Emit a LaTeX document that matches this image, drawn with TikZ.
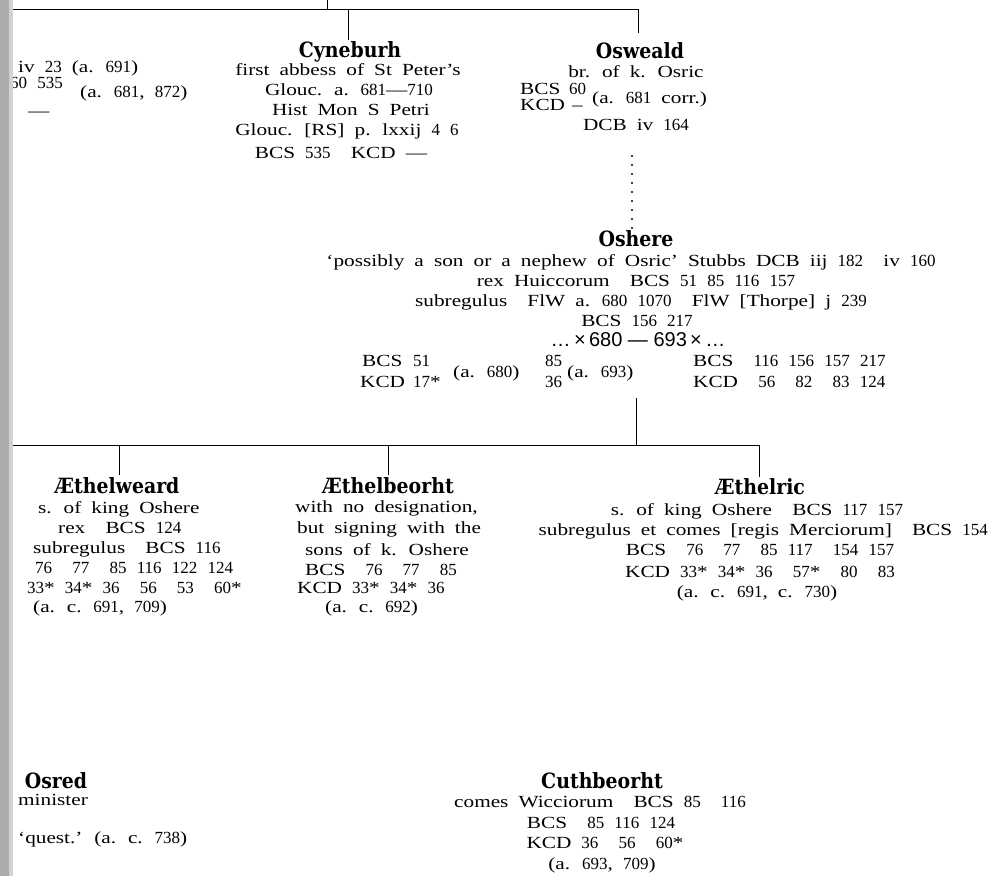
\documentclass[tikz,border=0pt]{standalone}
\usepackage{fontspec}
\setmainfont{Liberation Serif}[FakeStretch=1.25, WordSpace=1.9]
\newfontfamily\numfont{Liberation Serif}[WordSpace=2.4]
\newfontfamily\namefont{DejaVu Serif}[FakeStretch=0.9]
\newfontfamily\sansfnt{Liberation Sans}
% figures set without the horizontal stretch of the text face (narrower, as in the original)
\newcommand\osn[1]{{\numfont #1}}
\tikzset{
  tx/.style={anchor=base west, inner sep=0pt, font=\fontsize{17}{20}\selectfont},
  tc/.style={anchor=base, inner sep=0pt, font=\fontsize{17}{20}\selectfont},
  te/.style={anchor=base east, inner sep=0pt, font=\fontsize{17}{20}\selectfont},
  nm/.style={anchor=base, inner sep=0pt, font=\fontsize{21}{24}\namefont\bfseries},
  ln/.style={line width=0.9pt, black},
  dotline/.style={line width=2.3pt, line cap=round, dash pattern=on 0pt off 9pt}
}
\begin{document}
\begin{tikzpicture}[x=1pt, y=-1pt]
\useasboundingbox (0,0) rectangle (990,876);
% ---------- top generation line ----------
\coordinate (topL) at (0,9);
\coordinate (topUp) at (327,0);
\coordinate (topUpJ) at (327,9);
\coordinate (cyJ) at (348,9);
\coordinate (cyT) at (348,40);
\coordinate (osJ) at (638,9);
\coordinate (osT) at (638,33);
\draw[ln] (topL) -- (osJ) -- (osT);
\draw[ln] (topUp) -- (topUpJ);
\draw[ln] (cyJ) -- (cyT);
% ---------- left fragments ----------
\node[tx] (fa) at (18,72) {iv \osn{23} (a. \osn{691})};
\node[tx] (fb) at (10,88) {\osn{60 535}};
\node[tx] (fc) at (80,97) {(a. \osn{681}, \osn{872})};
\node[tx] (fd) at (28,116) {—};
% ---------- Cyneburh ----------
\node[nm] (cy) at (350,57) {Cyneburh};
\node[tc] (cy1) at (348,75) {first abbess of St Peter’s};
\node[tc] (cy2) at (349,95) {Glouc. a. \osn{681}—\osn{710}};
\node[tc] (cy3) at (351,115) {Hist Mon S Petri};
\node[tc] (cy4) at (347,135) {Glouc. [RS] p. lxxij \osn{4 6}};
\node[tc] (cy5) at (341,158) {BCS \osn{535}\ \ KCD —};
% ---------- Osweald ----------
\node[nm] (ow) at (640,58) {Osweald};
\node[tc] (ow1) at (636,77) {br. of k. Osric};
\node[tx] (ow2) at (520,94) {BCS};
\node[tx] (ow2n) at (569,94) {\osn{60}};
\node[tx] (ow3) at (520,110) {KCD};
\node[tx] (ow3n) at (572,110) {–};
\node[tx] (ow4) at (592,103) {(a. \osn{681} corr.)};
\node[tc] (ow5) at (636,130) {DCB iv \osn{164}};
% ---------- Oshere ----------
\coordinate (dotA) at (632,156);
\node[nm] (os) at (636,246) {Oshere};
\coordinate (dotB) at (632,236);
\draw[dotline] (dotA) -- (dotB);
\node[tc] (os1) at (631,266) {‘possibly a son or a nephew of Osric’ Stubbs DCB iij \osn{182}\ \ iv \osn{160}};
\node[tc] (os2) at (636,286) {rex Huiccorum\ \ BCS \osn{51 85 116 157}};
\node[tc] (os3) at (641,306) {subregulus\ \ FlW a. \osn{680 1070}\ \ FlW [Thorpe] j \osn{239}};
\node[tc] (os4) at (637,326) {BCS \osn{156 217}};
\node[anchor=base, inner sep=0pt, font=\fontsize{20}{22}\sansfnt] (os5) at (638,346) {…\,×\,680 — 693\,×\,…};
\node[tx] (os6) at (362,366) {BCS};
\node[tx] (os7) at (413,366) {\osn{51}};
\node[tx] (os8) at (360,387) {KCD};
\node[tx] (os9) at (413,387) {\osn{17}*};
\node[tx] (os10) at (453,377) {(a. \osn{680})};
\node[tx] (os11) at (545,366) {\osn{85}};
\node[tx] (os12) at (545,387) {\osn{36}};
\node[tx] (os13) at (567,377) {(a. \osn{693})};
\node[tx] (os14) at (693,366) {BCS\ \ \osn{116 156 157 217}};
\node[tx] (os15) at (693,387) {KCD\ \ \osn{56}\ \ \osn{82}\ \ \osn{83 124}};
% ---------- children line ----------
\coordinate (osB) at (636,398);
\coordinate (chJ) at (636,445);
\coordinate (chL) at (0,445);
\coordinate (chR) at (759,445);
\coordinate (awJ) at (119,445);
\coordinate (awT) at (119,475);
\coordinate (abJ) at (388,445);
\coordinate (abT) at (388,475);
\coordinate (arT) at (759,477);
\draw[ln] (osB) -- (chJ);
\draw[ln] (chL) -- (chR) -- (arT);
\draw[ln] (awJ) -- (awT);
\draw[ln] (abJ) -- (abT);
% ---------- Aethelweard ----------
\node[nm] (aw) at (117,493) {Æthelweard};
\node[tx] (aw1) at (38,513) {s. of king Oshere};
\node[tx] (aw2) at (58,533) {rex\ \ BCS \osn{124}};
\node[tx] (aw3) at (33,553) {subregulus\ \ BCS \osn{116}};
\node[tx] (aw4) at (35,573) {\osn{76}\ \ \osn{77}\ \ \osn{85 116 122 124}};
\node[tx] (aw5) at (27,593) {\osn{33}* \osn{34}* \osn{36}\ \ \osn{56}\ \ \osn{53}\ \ \osn{60}*};
\node[tx] (aw6) at (33,612) {(a. c. \osn{691}, \osn{709})};
% ---------- Aethelbeorht ----------
\node[nm] (ab) at (388,493) {Æthelbeorht};
\node[tx] (ab1) at (295,512) {with no designation,};
\node[tx] (ab2) at (297,533) {but signing with the};
\node[tx] (ab3) at (305,555) {sons of k. Oshere};
\node[tx] (ab4) at (305,575) {BCS\ \ \osn{76}\ \ \osn{77}\ \ \osn{85}};
\node[tx] (ab5) at (297,593) {KCD \osn{33}* \osn{34}* \osn{36}};
\node[tx] (ab6) at (325,612) {(a. c. \osn{692})};
% ---------- Aethelric ----------
\node[nm] (ar) at (760,494) {Æthelric};
\node[tc] (ar1) at (757,515) {s. of king Oshere\ \ BCS \osn{117 157}};
\node[te] (ar2) at (988,535) {subregulus et comes [regis Merciorum]\ \ BCS \osn{154}};
\node[tc] (ar3) at (760,555) {BCS\ \ \osn{76}\ \ \osn{77}\ \ \osn{85 117}\ \ \osn{154 157}};
\node[tc] (ar4) at (760,577) {KCD \osn{33}* \osn{34}* \osn{36}\ \ \osn{57}*\ \ \osn{80}\ \ \osn{83}};
\node[tc] (ar5) at (757,597) {(a. c. \osn{691}, c. \osn{730})};
% ---------- Osred ----------
\node[nm] (od) at (56,788) {Osred};
\node[tx] (od1) at (18,805) {minister};
\node[tx] (od2) at (18,843) {‘quest.’ (a. c. \osn{738})};
% ---------- Cuthbeorht ----------
\node[nm] (cu) at (602,788) {Cuthbeorht};
\node[tc] (cu1) at (600,807) {comes Wicciorum\ \ BCS \osn{85}\ \ \osn{116}};
\node[tc] (cu2) at (601,828) {BCS\ \ \osn{85 116 124}};
\node[tc] (cu3) at (605,848) {KCD \osn{36}\ \ \osn{56}\ \ \osn{60}*};
\node[tc] (cu4) at (602,869) {(a. \osn{693}, \osn{709})};
% ---------- gutter ----------
\fill[gray!35] (0,0) rectangle (13,876);
\fill[gray!65] (0,0) rectangle (9,876);
\end{tikzpicture}
\end{document}
